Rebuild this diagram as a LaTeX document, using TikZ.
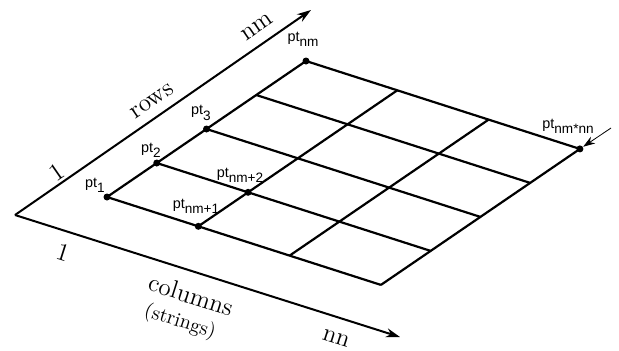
\documentclass[tikz,border=0pt]{standalone}
\usepackage{fontspec}
\newfontfamily\labfont{Liberation Sans}
\usetikzlibrary{arrows.meta,calc}
\newcommand{\ptlab}[1]{pt\raisebox{-0.7ex}{\fontsize{6.8}{7}\selectfont #1}}
\tikzset{
  axis/.style={line width=1pt,-{Stealth[length=7pt,width=4.5pt]}},
  gridline/.style={line width=1.1pt},
  dot/.style={circle,fill=black,inner sep=0pt,minimum size=3.5pt},
  ptl/.style={font=\labfont\fontsize{7.2}{8}\selectfont,inner sep=0pt},
  axl/.style={font=\fontsize{12.5}{14}\selectfont,inner sep=0pt},
  pointer/.style={line width=0.4pt,-{Stealth[length=6pt,width=4pt]}}
}
\begin{document}
\begin{tikzpicture}[x=0.5pt,y=-0.5pt]
\useasboundingbox (0,0) rectangle (619,350);
% axes
\coordinate (C) at (15,215);
\coordinate (R) at (311,10);
\coordinate (K) at (400,337);
\draw[axis] (C) -- (R);
\draw[axis] (C) -- (K);
% grid points
\foreach \i in {0,...,4}{
  \foreach \j in {0,...,3}{
    \coordinate (p\i\j) at ($(107,197)+\i*(49.75,-34)+\j*(91.3,29.3)$);
  }
}
\foreach \i in {0,...,4}{\draw[gridline] (p\i0) -- (p\i3);}
\foreach \j in {0,...,3}{\draw[gridline] (p0\j) -- (p4\j);}
% dots
\node[dot] (d1) at (p00) {};
\node[dot] (d2) at (p10) {};
\node[dot] (d3) at (p20) {};
\node[dot] (dnm) at (p40) {};
\node[dot] (dnm1) at (p01) {};
\node[dot] (dnm2) at (p11) {};
\node[dot] (dlast) at (p43) {};
% point labels
\node[ptl] (l1) at (95,185) {\ptlab{1}};
\node[ptl] (l2) at (151,150) {\ptlab{2}};
\node[ptl] (l3) at (201,113) {\ptlab{3}};
\node[ptl] (lnm) at (303,39) {\ptlab{nm}};
\node[ptl] (lnm2) at (240,175) {\ptlab{nm+2}};
\node[ptl] (lnm1) at (196,206) {\ptlab{nm+1}};
\node[ptl] (llast) at (568,126) {\ptlab{nm*nn}};
% pointer arrow
\coordinate (ps) at (611,128);
\draw[pointer] (ps) -- (dlast);
% axis labels
\node[axl,rotate=34.7] (rows) at (152,101) {rows};
\node[axl,rotate=34.7] (nm) at (257,27) {nm};
\node[axl,rotate=34.7] (one1) at (57,172) {1};
\node[axl,rotate=-17.6] (one2) at (63,252) {1};
\node[axl,rotate=-17.6] (cols) at (191,295) {columns};
\node[font=\fontsize{10}{12}\selectfont,inner sep=0pt,rotate=-17.6] (str) at (180,322) {(strings)};
\node[axl,rotate=-17.6] (nn) at (336,338) {nn};
\end{tikzpicture}
\end{document}
